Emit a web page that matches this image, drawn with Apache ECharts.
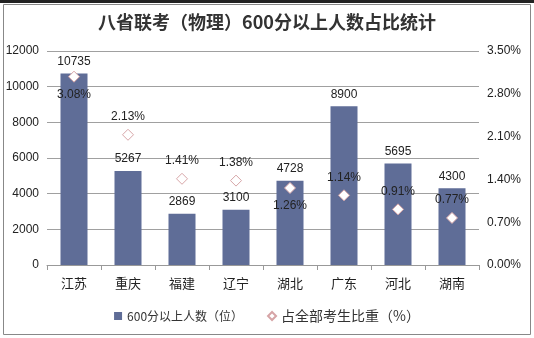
<!DOCTYPE html>
<html><head><meta charset="utf-8">
<script src="https://cdn.jsdelivr.net/npm/echarts@6/dist/echarts.min.js"></script>
<style>html,body{margin:0;padding:0;background:#fff}#c{width:534px;height:338px}</style>
</head><body><div id="c"></div>
<script>
const provinces = ['江苏','重庆','福建','辽宁','湖北','广东','河北','湖南'];
const counts = [10735, 5267, 2869, 3100, 4728, 8900, 5695, 4300];
const shares = [3.08, 2.13, 1.41, 1.38, 1.26, 1.14, 0.91, 0.77];
const shareLabelPos = ['bottom','top','top','top','bottom','top','top','top'];
const leftTicks = [0, 2000, 4000, 6000, 8000, 10000, 12000];
const rightTicks = [0, 0.7, 1.4, 2.1, 2.8, 3.5];

const font = '"Noto Sans CJK SC","Microsoft YaHei",sans-serif';
const numFont = 'Arial, "Liberation Sans", sans-serif';
const chart = echarts.init(document.getElementById('c'));
chart.setOption({
  animation: false,
  textStyle: {fontFamily: font},
  title: {text: '八省联考（物理）600分以上人数占比统计', left: 'center', top: 8,
    textStyle: {fontSize: 18, fontWeight: 'bold', color: '#333', fontFamily: font}},
  graphic: [
    {type: 'rect', shape: {x: 0, y: 0, width: 534, height: 3}, style: {fill: '#222'}, silent: true},
    {type: 'rect', shape: {x: 3.5, y: 4.5, width: 527, height: 330}, style: {fill: 'none', stroke: '#888', lineWidth: 1}, silent: true}
  ],
  legend: {
    bottom: 10, left: 'center', itemGap: 24, itemWidth: 8, itemHeight: 8,
    textStyle: {fontSize: 12, color: '#333', fontFamily: font},
    data: [
      {name: '600分以上人数（位）', icon: 'rect', textStyle: {fontSize: 12}},
      {name: '占全部考生比重（%）', icon: 'diamond', textStyle: {fontSize: 14}}
    ]
  },
  grid: {left: 47, right: 55, top: 51, bottom: 73},
  xAxis: {
    type: 'category', data: provinces,
    axisLine: {lineStyle: {color: '#999'}},
    axisTick: {show: true, length: 5, lineStyle: {color: '#999'}},
    axisLabel: {fontSize: 13, color: '#222', margin: 12, fontFamily: font}
  },
  yAxis: [
    {type: 'value', min: 0, max: 12000, interval: 2000,
      axisLine: {show: false}, axisTick: {show: false},
      axisLabel: {fontSize: 12, color: '#222', margin: 8, fontFamily: numFont, formatter: v => String(v)},
      splitLine: {lineStyle: {color: '#a0a0a0'}}},
    {type: 'value', min: 0, max: 3.5, interval: 0.7,
      axisLine: {show: false}, axisTick: {show: false}, splitLine: {show: false},
      axisLabel: {fontSize: 12, color: '#222', margin: 8, fontFamily: numFont,
        formatter: v => v.toFixed(2) + '%'}}
  ],
  series: [
    {name: '600分以上人数（位）', type: 'bar', data: counts, barWidth: 27,
      itemStyle: {color: '#5f6d97'},
      label: {show: true, position: 'top', distance: 6, fontSize: 12, color: '#222', fontFamily: numFont}},
    {name: '占全部考生比重（%）', type: 'scatter', yAxisIndex: 1, symbol: 'diamond', symbolSize: 11,
      itemStyle: {color: '#fff', borderColor: '#d6a4a6', borderWidth: 1, opacity: 1},
      data: shares.map((v, i) => ({value: v, label: {position: shareLabelPos[i]}})),
      label: {show: true, distance: 6, fontSize: 12, color: '#222', opacity: 1, fontFamily: numFont,
        formatter: p => p.value.toFixed(2) + '%'},
      z: 5}
  ]
});
</script></body></html>
